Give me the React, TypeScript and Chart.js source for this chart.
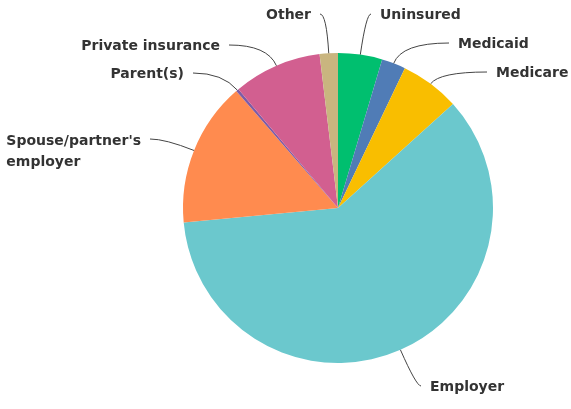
import React, { useEffect, useRef } from "react";
import { Chart, registerables } from "chart.js";

Chart.register(...registerables);

const categories = [
  "Uninsured",
  "Medicaid",
  "Medicare",
  "Employer",
  "Spouse/partner's\nemployer",
  "Parent(s)",
  "Private insurance",
  "Other",
];
const shares = [4.6, 2.5, 6.2, 60.2, 15.1, 0.3, 9.2, 1.9];
const colors = ["#00BF6F", "#507CB6", "#F9BE00", "#6BC8CD", "#FF8B4F", "#7D5BA6", "#D25F90", "#C9B57F"];

// label leader end points, offset from pie center (layout only)
const labelEnds: [number, number][] = [
  [33, -194],
  [111, -165],
  [149, -136],
  [83, 178],
  [-188, -69],
  [-145, -135],
  [-109, -163],
  [-18, -194],
];

const FONT = "bold 14px 'DejaVu Sans'";

const labelPlugin = {
  id: "pieLabels",
  afterDraw(chart: any) {
    const ctx = chart.ctx as CanvasRenderingContext2D;
    const meta = chart.getDatasetMeta(0);
    ctx.save();
    ctx.font = FONT;
    ctx.fillStyle = "#333333";
    ctx.strokeStyle = "#444444";
    ctx.lineWidth = 1;
    ctx.textBaseline = "middle";
    meta.data.forEach((arc: any, i: number) => {
      const { x, y, startAngle, endAngle, outerRadius } = arc.getProps(
        ["x", "y", "startAngle", "endAngle", "outerRadius"],
        true
      );
      const mid = (startAngle + endAngle) / 2;
      const ex = x + outerRadius * Math.cos(mid);
      const ey = y + outerRadius * Math.sin(mid);
      const tx = x + labelEnds[i][0];
      const ty = y + labelEnds[i][1];
      const s = Math.sin(mid);
      let cx = ex;
      let cy = ty;
      if (Math.abs(s) > 0.05) {
        const t = (ty - ey) / s;
        cx = ex + Math.max(t, 0) * Math.cos(mid);
      }
      ctx.beginPath();
      ctx.moveTo(ex, ey);
      ctx.quadraticCurveTo(cx, cy, tx, ty);
      ctx.stroke();
      const right = tx > x;
      const lines = categories[i].split("\n");
      const gap = 9;
      if (right) {
        ctx.textAlign = "left";
        lines.forEach((ln, k) => ctx.fillText(ln, tx + gap, ty + 1 + k * 21));
      } else if (lines.length > 1) {
        const w = Math.max(...lines.map((ln) => ctx.measureText(ln).width));
        ctx.textAlign = "left";
        lines.forEach((ln, k) => ctx.fillText(ln, tx - gap - w, ty + 2 + k * 21));
      } else {
        ctx.textAlign = "right";
        ctx.fillText(lines[0], tx - gap, ty + 1);
      }
    });
    ctx.restore();
  },
};

export default function App() {
  const ref = useRef<HTMLCanvasElement>(null);
  useEffect(() => {
    if (!ref.current) return;
    const chart = new Chart(ref.current, {
      type: "pie",
      data: {
        labels: categories,
        datasets: [
          {
            data: shares,
            backgroundColor: colors,
            borderWidth: 0,
          },
        ],
      },
      options: {
        animation: false,
        responsive: false,
        layout: { padding: { left: 183, right: 78, top: 53, bottom: 46 } },
        plugins: { legend: { display: false }, tooltip: { enabled: false } },
      },
      plugins: [labelPlugin],
    });
    return () => chart.destroy();
  }, []);
  return (
    <div style={{ position: "fixed", left: 0, top: 0, width: 571, height: 409, background: "#fff" }}>
      <canvas ref={ref} width={571} height={409} style={{ width: 571, height: 409 }} />
    </div>
  );
}
